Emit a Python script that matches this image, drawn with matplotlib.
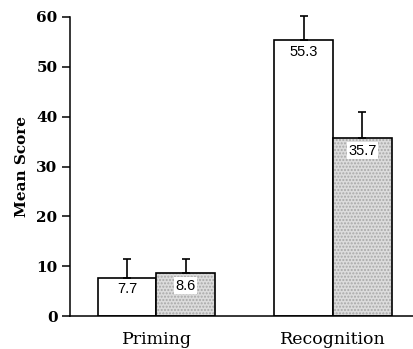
import numpy as np
import matplotlib.pyplot as plt

# data
groups = ['Priming', 'Recognition']
white_vals = [7.7, 55.3]
grey_vals = [8.6, 35.7]
white_err = [3.7, 5.0]
grey_err = [2.8, 5.3]
yticks = [0, 10, 20, 30, 40, 50, 60]

fig = plt.figure(figsize=(4.13, 3.49), dpi=100)
ax = fig.add_axes([70/413, 1-316/349, 1-70/413, (316-17)/349])

x = np.array([0, 3])
w = 1.0

# white bars
ax.bar(x - w/2, white_vals, w, color='white', edgecolor='black', lw=1.2, zorder=2)
# grey stippled bars: hatch layer then outline
ax.bar(x + w/2, grey_vals, w, color='#dcdcdc', edgecolor='#a8a8a8', hatch='.....', lw=0, zorder=2)
ax.bar(x + w/2, grey_vals, w, fill=False, edgecolor='black', lw=1.2, zorder=3)

# error bars, upward only
ax.errorbar(x - w/2, white_vals, yerr=[np.zeros(2), white_err], fmt='none',
            ecolor='black', elinewidth=1.2, capsize=3, capthick=1.2, zorder=4, clip_on=False)
ax.errorbar(x + w/2, grey_vals, yerr=[np.zeros(2), grey_err], fmt='none',
            ecolor='black', elinewidth=1.2, capsize=3, capthick=1.2, zorder=4, clip_on=False)

# value labels
for xi, v in zip(x - w/2, white_vals):
    ax.annotate(f'{v}', xy=(xi, v), xytext=(0, -8.5), textcoords='offset points',
                ha='center', va='center', fontsize=10.5, family='Liberation Sans', zorder=5)
for xi, v in zip(x + w/2, grey_vals):
    ax.annotate(f'{v}', xy=(xi, v), xytext=(0, -9), textcoords='offset points',
                ha='center', va='center', fontsize=10.5, family='Liberation Sans', zorder=5,
                bbox=dict(boxstyle='square,pad=0.1', fc='white', ec='none'))

ax.set_xlim(-1.47, 4.36)
ax.set_ylim(0, 60)
ax.set_yticks(yticks)
ax.set_yticklabels([str(t) for t in yticks], family='DejaVu Serif', fontweight='bold', fontsize=11)
ax.set_xticks(x)
ax.set_xticklabels(groups, family='DejaVu Serif', fontsize=12.5)
ax.tick_params(axis='x', length=0, pad=11)
ax.tick_params(axis='y', length=6, width=1.1, pad=3)
ax.set_ylabel('Mean Score', family='DejaVu Serif', fontweight='bold', fontsize=11, labelpad=5)

for s in ['top', 'right']:
    ax.spines[s].set_visible(False)
for s in ['left', 'bottom']:
    ax.spines[s].set_linewidth(1.1)

fig.savefig('out.png', dpi=100)
